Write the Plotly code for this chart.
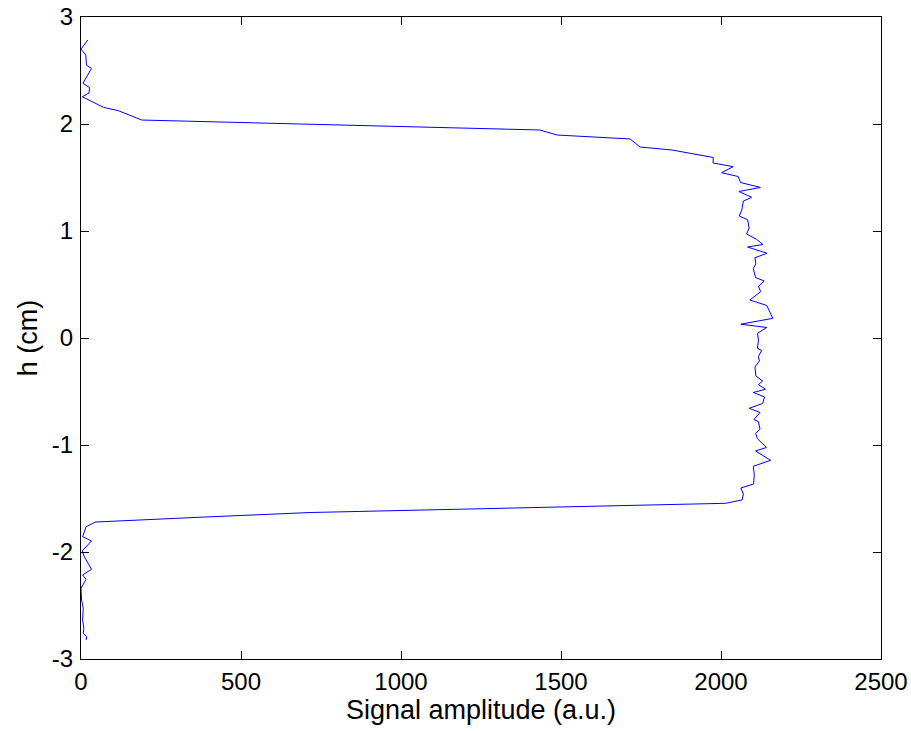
import plotly.graph_objects as go

amplitude = [21, 0, 15, 17, 33, 6, 27, 25, 4, 70, 117, 190,
             1434, 1488, 1716, 1747, 1847, 1908, 1976, 1975, 2038, 2002,
             2054, 2061, 2123, 2056, 2096, 2070, 2065, 2057, 2083, 2088,
             2080, 2111, 2131, 2083, 2144, 2106, 2109, 2101, 2108, 2135,
             2117, 2124, 2090, 2143, 2162, 2062, 2143, 2114, 2117, 2114,
             2127, 2117, 2120, 2106, 2109, 2130, 2117, 2139, 2101, 2136,
             2130, 2088, 2122, 2103, 2117, 2122, 2108, 2114, 2127, 2142,
             2108, 2155, 2101, 2104, 2102, 2062, 2070, 2066, 2013,
             716, 388, 44, 16, 5, 33, 4, 9, 33, 5, 16, 0, 2, 7, 5, 9, 7, 18, 16]
height = [2.785, 2.70, 2.645, 2.55, 2.52, 2.38, 2.34, 2.29, 2.255, 2.156, 2.124, 2.037,
          1.944, 1.897, 1.86, 1.785, 1.757, 1.726, 1.687, 1.636, 1.601, 1.545,
          1.509, 1.453, 1.407, 1.369, 1.315, 1.280, 1.196, 1.140, 1.106, 1.028,
          0.972, 0.922, 0.874, 0.850, 0.792, 0.750, 0.692, 0.650, 0.565, 0.533,
          0.483, 0.433, 0.355, 0.304, 0.184, 0.129, 0.098, 0.044, -0.019, -0.096,
          -0.117, -0.173, -0.215, -0.271, -0.355, -0.402, -0.436, -0.479, -0.509, -0.551,
          -0.612, -0.657, -0.696, -0.762, -0.782, -0.853, -0.891, -0.942, -0.984, -1.023,
          -1.056, -1.143, -1.199, -1.280, -1.364, -1.402, -1.458, -1.514, -1.545,
          -1.631, -1.673, -1.72, -1.764, -1.857, -1.897, -1.988, -2.037, -2.162, -2.215,
          -2.255, -2.339, -2.449, -2.526, -2.636, -2.713, -2.760, -2.792, -2.822]

x_ticks = [0, 500, 1000, 1500, 2000, 2500]
x_tick_labels = ["0", "500", "1000", "1500", "2000", "2500"]
y_ticks = [-3, -2, -1, 0, 1, 2, 3]
y_tick_labels = ["-3", "-2", "-1", "0", "1", "2", "3"]

FONT = "Liberation Sans, Arial, Helvetica, sans-serif"
FS = 24
FS_TITLE = 27

fig = go.Figure()
fig.add_trace(go.Scatter(
    x=amplitude, y=height, mode="lines",
    line=dict(color="#0000ff", width=1),
    showlegend=False,
))

axis_common = dict(
    showline=True, linecolor="black", linewidth=1, mirror="ticks",
    ticks="inside", ticklen=8, tickcolor="black", tickwidth=1,
    showgrid=False, zeroline=False, automargin=False,
    tickfont=dict(family=FONT, size=FS, color="black"),
)

fig.update_layout(
    width=911, height=731,
    margin=dict(l=81, r=30, t=17, b=72),
    paper_bgcolor="white", plot_bgcolor="white",
    font=dict(family=FONT, size=FS, color="black"),
    xaxis=dict(range=[0, 2500], tickvals=x_ticks, ticktext=x_tick_labels,
               ticklabelstandoff=1,
               title=dict(text="Signal amplitude (a.u.)", standoff=5,
                          font=dict(family=FONT, size=FS_TITLE)),
               **axis_common),
    yaxis=dict(range=[-3, 3], tickvals=y_ticks, ticktext=y_tick_labels,
               ticklabelstandoff=2,
               title=dict(text="h (cm)", standoff=6,
                          font=dict(family=FONT, size=FS_TITLE)),
               **axis_common),
)

fig.write_html("out.html")
